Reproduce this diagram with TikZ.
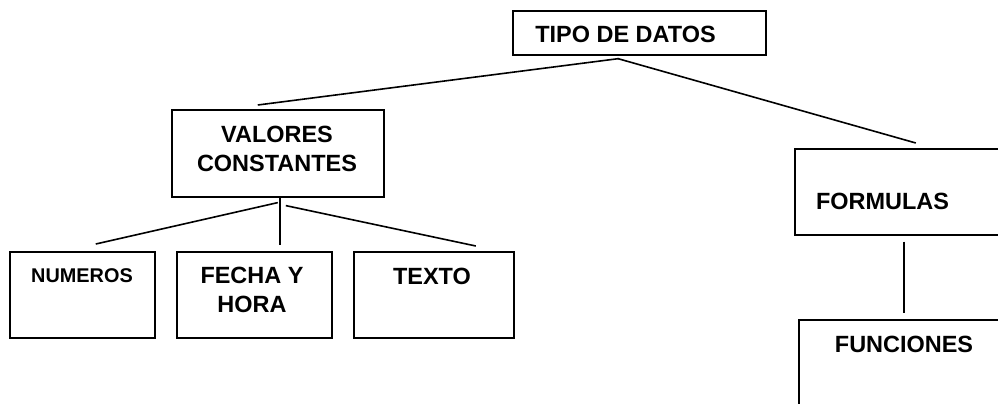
\documentclass[tikz,border=0pt]{standalone}
\usepackage{fontspec}
\setmainfont{Liberation Sans}
\begin{document}
\begin{tikzpicture}[x=0.75pt,y=-0.75pt,
  box/.style={draw,line width=1.2pt,rectangle,inner sep=0pt,anchor=north west},
  lbl/.style={inner sep=0pt,font=\fontsize{17.6}{21.4}\selectfont\bfseries},
  smalllbl/.style={inner sep=0pt,font=\fontsize{14.9}{18}\selectfont\bfseries},
  conn/.style={line width=1.2pt}]
\path[use as bounding box,clip] (0,0) rectangle (998,403);
% boxes
\node[box,minimum width={253*0.75pt},minimum height={44*0.75pt}] (tipo) at (512,10) {};
\node[box,minimum width={212*0.75pt},minimum height={87*0.75pt}] (valores) at (171,109) {};
\node[box,minimum width={145*0.75pt},minimum height={86*0.75pt}] (numeros) at (9,251) {};
\node[box,minimum width={155*0.75pt},minimum height={86*0.75pt}] (fecha) at (176,251) {};
\node[box,minimum width={160*0.75pt},minimum height={86*0.75pt}] (texto) at (353,251) {};
\node[box,minimum width={220*0.75pt},minimum height={86*0.75pt}] (formulas) at (794,148) {};
\node[box,minimum width={220*0.75pt},minimum height={110*0.75pt}] (funciones) at (798,319) {};
% labels
\node[lbl,anchor=base] (tipoT) at (625.5,43) {TIPO DE DATOS};
\node[lbl,align=center] (valoresT) at (277,149) {VALORES\\CONSTANTES};
\node[smalllbl,anchor=base] (numerosT) at (82,282) {NUMEROS};
\node[lbl,align=center] (fechaT) at (252,290) {FECHA Y\\HORA};
\node[lbl,anchor=base] (textoT) at (432,284) {TEXTO};
\node[lbl,anchor=base] (formulasT) at (882.5,209) {FORMULAS};
\node[lbl,anchor=base] (funcionesT) at (904,352) {FUNCIONES};
% connector ends
\coordinate (a1) at ([shift={(-20.5,3)}]tipo.south);
\coordinate (a2) at ([shift={(-21.5,3)}]tipo.south);
\coordinate (v0) at ([shift={(-20,-4)}]valores.north);
\coordinate (f0) at ([shift={(11,-5)}]formulas.north);
\coordinate (v1) at ([shift={(0,5)}]valores.south);
\coordinate (v2) at ([shift={(2,0)}]valores.south);
\coordinate (v3) at ([shift={(8,8)}]valores.south);
\coordinate (n0) at ([shift={(13.5,-7)}]numeros.north);
\coordinate (h0) at ([shift={(25.5,-6)}]fecha.north);
\coordinate (t0) at ([shift={(42,-5)}]texto.north);
\coordinate (f1) at ([shift={(0,6)}]formulas.south west);
\coordinate (g0) at ([shift={(0,-6)}]funciones.north west);
% connectors
\draw[conn] (a1) -- (v0);
\draw[conn] (a2) -- (f0);
\draw[conn] (v1) -- (n0);
\draw[conn] (v2) -- (v2 |- h0);
\draw[conn] (v3) -- (t0);
\draw[conn] ([xshift={110*0.75pt}]f1) -- ([xshift={106*0.75pt}]g0);
\end{tikzpicture}
\end{document}
